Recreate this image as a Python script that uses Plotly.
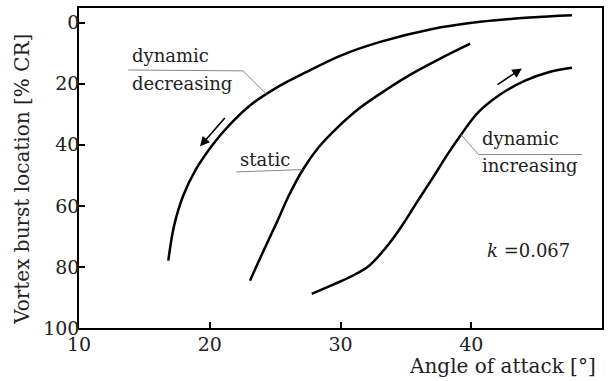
import plotly.graph_objects as go

# Angle of attack [deg] and vortex burst location [% CR]
dec_aoa = [16.83, 17.27, 17.96, 18.95, 20.25, 21.55, 23.08, 24.99, 27.29, 29.97, 33.03, 36.85, 40.68, 44.51, 47.70]
dec_loc = [77.95, 66.55, 56.77, 48.0, 39.8, 33.3, 27.1, 21.6, 16.4, 10.85, 6.29, 2.21, -0.29, -1.69, -2.41]

static_aoa = [23.08, 24.08, 25.15, 26.07, 27.14, 28.36, 29.82, 31.42, 33.41, 35.48, 37.62, 39.92]
static_loc = [84.5, 75.0, 65.2, 56.45, 48.0, 40.65, 34.1, 28.1, 22.2, 16.7, 11.8, 6.9]

inc_aoa = [27.80, 29.43, 30.96, 32.19, 33.41, 34.64, 35.86, 37.09, 38.16, 39.23, 40.53, 42.21, 44.12, 46.04, 47.70]
inc_loc = [88.8, 85.8, 82.8, 79.6, 74.0, 66.9, 58.7, 50.6, 43.3, 36.6, 29.4, 23.55, 19.0, 16.06, 14.76]

x_ticks = [10, 20, 30, 40, 50]
y_ticks = [0, 20, 40, 60, 80, 100]

# leader lines for the labels
lead_dec_x = [13.77, 22.55, 24.34]
lead_dec_y = [15.5, 15.8, 23.45]
lead_static_x = [22.01, 27.1]
lead_static_y = [48.9, 48.1]
lead_inc_x = [39.25, 40.55, 48.46]
lead_inc_y = [36.8, 43.2, 43.2]

FONT = "DejaVu Serif"

fig = go.Figure()
for xs, ys in [(dec_aoa, dec_loc), (static_aoa, static_loc), (inc_aoa, inc_loc)]:
    fig.add_trace(go.Scatter(x=xs, y=ys, mode="lines",
                             line=dict(color="black", width=2.5, shape="spline", smoothing=1.0),
                             showlegend=False, hoverinfo="skip"))
for xs, ys in [(lead_dec_x, lead_dec_y), (lead_static_x, lead_static_y), (lead_inc_x, lead_inc_y)]:
    fig.add_trace(go.Scatter(x=xs, y=ys, mode="lines",
                             line=dict(color="#888888", width=1),
                             showlegend=False, hoverinfo="skip"))

tf = dict(family=FONT, size=18, color="#222222")
ann = [
    dict(x=13.9, y=10.6, text="dynamic", xanchor="left", showarrow=False, font=tf),
    dict(x=13.9, y=19.8, text="decreasing", xanchor="left", showarrow=False, font=tf),
    dict(x=24.2, y=44.8, text="static", xanchor="center", showarrow=False, font=tf),
    dict(x=40.65, y=37.8, text="dynamic", xanchor="left", showarrow=False, font=tf),
    dict(x=40.65, y=46.8, text="increasing", xanchor="left", showarrow=False, font=tf),
    dict(x=44.35, y=74.7, text="<i>k</i> =0.067", xanchor="center", showarrow=False, font=tf),
    # arrows
    dict(x=19.26, y=40.5, ax=21.25, ay=30.7, xref="x", yref="y", axref="x", ayref="y",
         showarrow=True, arrowhead=2, arrowsize=1.2, arrowwidth=1.6, arrowcolor="black", text=""),
    dict(x=43.87, y=15.0, ax=41.9, ay=20.6, xref="x", yref="y", axref="x", ayref="y",
         showarrow=True, arrowhead=2, arrowsize=1.2, arrowwidth=1.6, arrowcolor="black", text=""),
    # axis titles
    dict(x=0.992, y=-0.12, xref="paper", yref="paper", xanchor="right", yanchor="middle",
         text="Angle of attack [°]", showarrow=False, font=dict(family=FONT, size=20, color="#222222")),
    dict(x=-0.109, y=0.466, xref="paper", yref="paper", xanchor="center", yanchor="middle",
         textangle=-90, text="Vortex burst location [% CR]", showarrow=False,
         font=dict(family=FONT, size=20, color="#222222")),
]
for a in ann:
    a.setdefault("xref", "x")
    a.setdefault("yref", "y")
    fig.add_annotation(**a)

axis_common = dict(showgrid=False, zeroline=False, showline=True, linecolor="black", linewidth=1.6,
                   mirror=True, ticks="inside", ticklen=6, tickwidth=1.5, tickcolor="black",
                   tickfont=dict(family=FONT, size=19, color="#222222"))
fig.update_xaxes(range=[10, 50], tickvals=x_ticks, ticklabelstandoff=-2, **axis_common)
fig.update_yaxes(range=[100, -4.8], tickvals=y_ticks, ticklabelstandoff=-6, **axis_common)

fig.update_layout(width=611, height=381, margin=dict(l=79, r=9, t=6, b=53),
                  plot_bgcolor="white", paper_bgcolor="white")
fig.write_html("out.html", config={"displayModeBar": False},
               post_script="document.body.style.margin='0';")
